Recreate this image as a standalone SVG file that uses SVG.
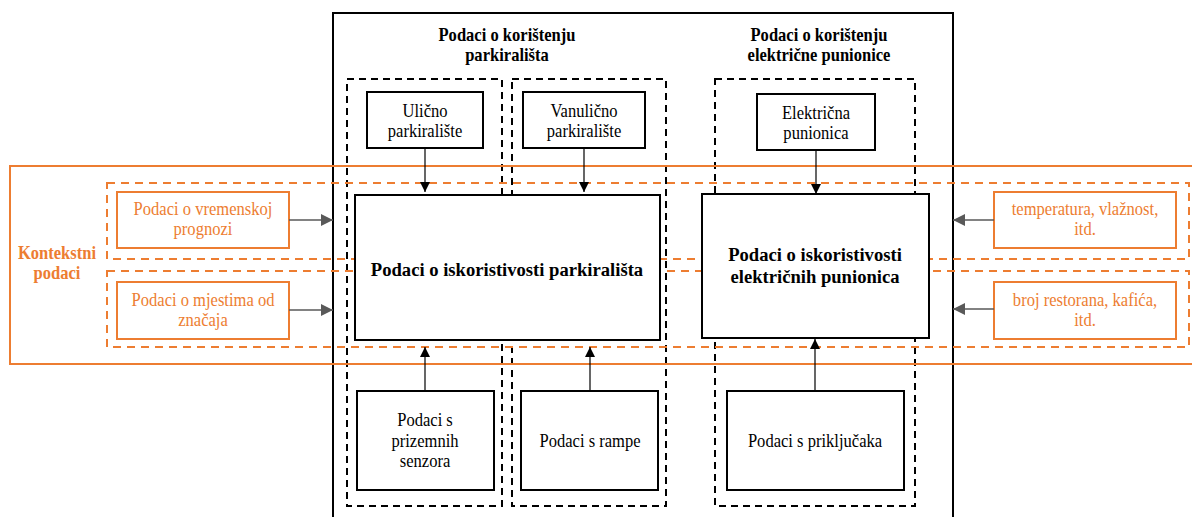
<svg xmlns="http://www.w3.org/2000/svg" width="1192" height="517" viewBox="0 0 1192 517">
<defs>
<style>
text{font-family:"Liberation Serif","Times New Roman",Times,serif;text-anchor:middle}
.t{font-size:18px;fill:#000}
.tb{font-size:18px;font-weight:bold;fill:#000}
.big{font-size:19.5px;font-weight:bold;fill:#000}
.ot{font-size:18px;fill:#ED7D31}
.kt{font-weight:bold;font-size:18px;fill:#ED7D31}
.box{fill:#fff;stroke:#000;stroke-width:2}
.obox{fill:#fff;stroke:#ED7D31;stroke-width:2}
.bdash{fill:none;stroke:#000;stroke-width:2;stroke-dasharray:7 5}
.odash{fill:none;stroke:#ED7D31;stroke-width:2;stroke-dasharray:8 6}
.arr{stroke:#000;stroke-width:1.2;fill:none}
.garr{stroke:#595959;stroke-width:1.5;fill:none}
</style>
<marker id="ah" viewBox="0 0 10 10" refX="10" refY="5" markerWidth="10" markerHeight="12" markerUnits="userSpaceOnUse" orient="auto"><path d="M0,0 L10,5 L0,10 z" fill="#000"/></marker>
<marker id="gh" viewBox="0 0 10 10" refX="10" refY="5" markerWidth="12" markerHeight="12" markerUnits="userSpaceOnUse" orient="auto"><path d="M0,0 L10,5 L0,10 z" fill="#595959"/></marker>
</defs>
<rect width="1192" height="517" fill="#fff"/>

<g id="outer-frame">
<rect x="333" y="13" width="620" height="520" fill="none" stroke="#000" stroke-width="2"/>
<g transform="matrix(0.92 0 0 1 507 0)">
<text class="tb" x="0" y="41">Podaci o korištenju</text>
<text class="tb" x="0" y="61">parkirališta</text>
</g>
<g transform="matrix(0.92 0 0 1 819 0)">
<text class="tb" x="0" y="41">Podaci o korištenju</text>
<text class="tb" x="0" y="61">električne punionice</text>
</g>
</g>

<g id="group-ulicno"><rect class="bdash" x="347" y="79" width="155" height="427"/></g>
<g id="group-vanulicno"><rect class="bdash" x="512" y="79" width="154" height="427"/></g>
<g id="group-punionica"><rect class="bdash" x="715" y="79" width="200" height="427"/></g>

<g id="kontekstni">
<rect x="10" y="166" width="1200" height="198" fill="none" stroke="#ED7D31" stroke-width="2"/>
<g transform="matrix(0.92 0 0 1 57 0)">
<text class="kt" x="0" y="259">Kontekstni</text>
<text class="kt" x="0" y="279">podaci</text>
</g>
</g>
<g id="context-weather"><rect class="odash" x="107" y="183" width="1082" height="76"/></g>
<g id="context-poi"><rect class="odash" x="107" y="271" width="1082" height="76"/></g>

<g id="n-vrem"><rect class="obox" x="117" y="192" width="172" height="56"/>
<g transform="matrix(0.92 0 0 1 203 0)"><text class="ot" x="0" y="215">Podaci o vremenskoj</text><text class="ot" x="0" y="235">prognozi</text></g></g>
<g id="n-mjesta"><rect class="obox" x="117" y="282" width="172" height="57"/>
<g transform="matrix(0.92 0 0 1 203 0)"><text class="ot" x="0" y="306">Podaci o mjestima od</text><text class="ot" x="0" y="326">značaja</text></g></g>
<g id="n-temp"><rect class="obox" x="994" y="192" width="182" height="56"/>
<g transform="matrix(0.92 0 0 1 1085 0)"><text class="ot" x="0" y="215">temperatura, vlažnost,</text><text class="ot" x="0" y="235">itd.</text></g></g>
<g id="n-broj"><rect class="obox" x="994" y="282" width="182" height="57"/>
<g transform="matrix(0.92 0 0 1 1085 0)"><text class="ot" x="0" y="306">broj restorana, kafića,</text><text class="ot" x="0" y="326">itd.</text></g></g>

<g id="n-ulicno"><rect class="box" x="367" y="92" width="116" height="56"/>
<g transform="matrix(0.92 0 0 1 425 0)"><text class="t" x="0" y="117">Ulično</text><text class="t" x="0" y="137">parkiralište</text></g></g>
<g id="n-vanulicno"><rect class="box" x="523" y="92" width="122" height="56"/>
<g transform="matrix(0.92 0 0 1 584 0)"><text class="t" x="0" y="117">Vanulično</text><text class="t" x="0" y="137">parkiralište</text></g></g>
<g id="n-elektricna"><rect class="box" x="757" y="94" width="118" height="56"/>
<g transform="matrix(0.92 0 0 1 816 0)"><text class="t" x="0" y="119">Električna</text><text class="t" x="0" y="139">punionica</text></g></g>

<g id="n-iskor-park"><rect class="box" x="355" y="195" width="305" height="145"/>
<g transform="matrix(0.955 0 0 1 507 0)"><text class="big" x="0" y="276">Podaci o iskoristivosti parkirališta</text></g></g>
<g id="n-iskor-pun"><rect class="box" x="702" y="194" width="227" height="144"/>
<g transform="matrix(0.955 0 0 1 815 0)"><text class="big" x="0" y="261">Podaci o iskoristivosti</text>
<text class="big" x="0" y="283">električnih punionica</text></g></g>

<g id="n-senzori"><rect class="box" x="357" y="391" width="137" height="99"/>
<g transform="matrix(0.92 0 0 1 425 0)"><text class="t" x="0" y="426">Podaci s</text><text class="t" x="0" y="447">prizemnih</text><text class="t" x="0" y="467">senzora</text></g></g>
<g id="n-rampa"><rect class="box" x="521" y="391" width="137" height="99"/>
<g transform="matrix(0.92 0 0 1 590 0)"><text class="t" x="0" y="447">Podaci s rampe</text></g></g>
<g id="n-prikljucci"><rect class="box" x="727" y="391" width="177" height="99"/>
<g transform="matrix(0.92 0 0 1 815 0)"><text class="t" x="0" y="447">Podaci s priključaka</text></g></g>

<g id="connectors">
<line class="arr" x1="425" y1="148" x2="425" y2="192" marker-end="url(#ah)"/>
<line class="arr" x1="584" y1="148" x2="584" y2="192" marker-end="url(#ah)"/>
<line class="arr" x1="816" y1="150" x2="816" y2="194" marker-end="url(#ah)"/>
<line class="arr" x1="425" y1="391" x2="425" y2="347" marker-end="url(#ah)"/>
<line class="arr" x1="590" y1="391" x2="590" y2="347" marker-end="url(#ah)"/>
<line class="arr" x1="815" y1="391" x2="815" y2="339" marker-end="url(#ah)"/>
<line class="garr" x1="289" y1="220" x2="333" y2="220" marker-end="url(#gh)"/>
<line class="garr" x1="289" y1="310" x2="333" y2="310" marker-end="url(#gh)"/>
<line class="garr" x1="994" y1="220" x2="953" y2="220" marker-end="url(#gh)"/>
<line class="garr" x1="994" y1="309" x2="953" y2="309" marker-end="url(#gh)"/>
</g>
</svg>
